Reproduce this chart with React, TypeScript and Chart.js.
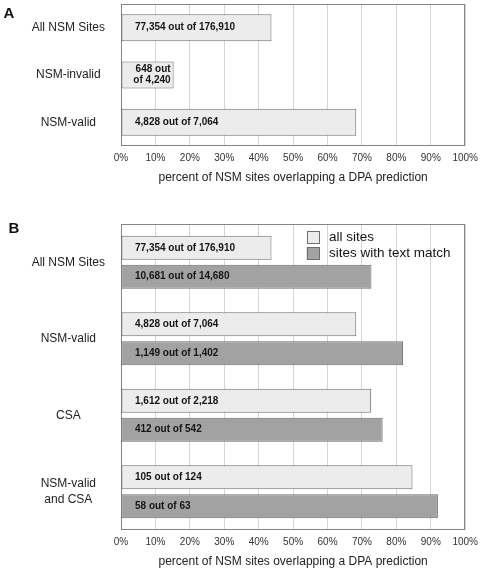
import React, { useEffect, useRef } from 'react';
import { Chart, registerables } from 'chart.js';

Chart.register(...registerables);

// ---------- data ----------
const categoriesA = ['All NSM Sites', 'NSM-invalid', 'NSM-valid'];
const hitsA = [77354, 648, 4828];
const totalsA = [176910, 4240, 7064];

const categoriesB: (string | string[])[] = ['All NSM Sites', 'NSM-valid', 'CSA', ['NSM-valid', 'and CSA']];
const seriesNamesB = ['all sites', 'sites with text match'];
const hitsAllB = [77354, 4828, 1612, 105];
const totalsAllB = [176910, 7064, 2218, 124];
const hitsTextB = [10681, 1149, 412, 58];
const totalsTextB = [14680, 1402, 542, 63];

const panelLabels = ['A', 'B'];
const axisTitle = 'percent of NSM sites overlapping a DPA prediction';
const xMin = 0;
const xMax = 100;
const xStep = 10;

// ---------- helpers ----------
const FONT = '"Liberation Sans", Arial, Helvetica, sans-serif';
const LIGHT = '#ececec';
const DARK = '#a2a2a2';
const EDGE = '#6e6e6e';

const pct = (h: number[], t: number[]) => h.map((v, i) => (v / t[i]) * 100);
const fmt = (n: number) => n.toLocaleString('en-US');
const texts = (h: number[], t: number[]) => h.map((v, i) => `${fmt(v)} out of ${fmt(t[i])}`);

const framePlugin = {
  id: 'frame',
  beforeDatasetsDraw(chart: any) {
    const { ctx, chartArea: a } = chart;
    ctx.save();
    ctx.strokeStyle = '#858585';
    ctx.lineWidth = 1;
    ctx.strokeRect(Math.round(a.left) + 0.5, Math.round(a.top) + 0.5, Math.round(a.right - a.left) - 1, Math.round(a.bottom - a.top) - 1);
    ctx.restore();
  },
};

const barTextPlugin = {
  id: 'barText',
  afterDatasetsDraw(chart: any) {
    const { ctx, chartArea: a } = chart;
    ctx.save();
    ctx.font = `bold 10px ${FONT}`;
    ctx.fillStyle = '#151515';
    ctx.textBaseline = 'middle';
    chart.data.datasets.forEach((ds: any, di: number) => {
      const meta = chart.getDatasetMeta(di);
      meta.data.forEach((el: any, i: number) => {
        const t: string = ds.texts[i];
        const { x, y } = el.getProps(['x', 'y'], true);
        const left = a.left + 14;
        const w = ctx.measureText(t).width;
        if (left + w > x - 3) {
          const idx = t.indexOf(' of ');
          const l1 = t.slice(0, idx);
          const l2 = t.slice(idx + 1);
          ctx.textAlign = 'right';
          ctx.fillText(l1, x - 3, y - 5.5);
          ctx.fillText(l2, x - 3, y + 5.5);
        } else {
          ctx.textAlign = 'left';
          ctx.fillText(t, left, y);
        }
      });
    });
    ctx.restore();
  },
};

const panelLetterPlugin = {
  id: 'panelLetter',
  afterDraw(chart: any, _args: any, opts: any) {
    const { ctx } = chart;
    ctx.save();
    ctx.font = `bold 15px ${FONT}`;
    ctx.fillStyle = '#111';
    ctx.textAlign = 'left';
    ctx.textBaseline = 'alphabetic';
    ctx.fillText(opts.text, opts.x, opts.y);
    ctx.restore();
  },
};

const innerLegendPlugin = {
  id: 'innerLegend',
  afterDraw(chart: any, _args: any, opts: any) {
    if (!opts.show) return;
    const { ctx, chartArea: a } = chart;
    ctx.save();
    const bx = a.right - 158.5;
    chart.data.datasets.forEach((ds: any, i: number) => {
      const by = a.top + 6.7 + i * 16.3;
      ctx.fillStyle = ds.backgroundColor;
      ctx.fillRect(bx, by, 12.5, 12.5);
      ctx.strokeStyle = EDGE;
      ctx.lineWidth = 1;
      ctx.strokeRect(Math.round(bx) + 0.5, Math.round(by) + 0.5, 12, 12);
      ctx.font = `13.5px ${FONT}`;
      ctx.fillStyle = '#151515';
      ctx.textAlign = 'left';
      ctx.textBaseline = 'middle';
      ctx.fillText(ds.label, bx + 22.3, by + 6.5);
    });
    ctx.restore();
  },
};

function makeOptions(topPad: number, letter: any, legend: boolean, catPct: number, barPct: number): any {
  return {
    indexAxis: 'y',
    responsive: false,
    animation: false,
    events: [],
    layout: { padding: { top: topPad, right: 17, left: 0, bottom: 0 } },
    datasets: { bar: { categoryPercentage: catPct, barPercentage: barPct } },
    plugins: {
      legend: { display: false },
      tooltip: { enabled: false },
      panelLetter: letter,
      innerLegend: { show: legend },
    },
    scales: {
      x: {
        min: xMin,
        max: xMax,
        grid: { color: '#d6d6d6', drawTicks: false, lineWidth: 1 },
        border: { display: false },
        ticks: {
          stepSize: xStep,
          padding: 6,
          color: '#333',
          font: { family: FONT, size: 10 },
          callback: (v: any) => `${v}%`,
          maxRotation: 0,
          autoSkip: false,
        },
        title: {
          display: true,
          text: axisTitle,
          color: '#222',
          font: { family: FONT, size: 12 },
          padding: { top: 0, bottom: 3 },
        },
        afterFit: (s: any) => {
          s.height = 42;
        },
      },
      y: {
        grid: { display: false, drawTicks: false },
        border: { display: false },
        ticks: {
          crossAlign: 'center',
          padding: 16,
          color: '#222',
          font: { family: FONT, size: 12, lineHeight: 1.33 },
        },
        afterFit: (s: any) => {
          s.width = 121;
          s.paddingTop = 0;
          s.paddingBottom = 0;
        },
      },
    },
  };
}

function ChartCanvas({ config, width, height, top }: { config: any; width: number; height: number; top: number }) {
  const ref = useRef<HTMLCanvasElement | null>(null);
  useEffect(() => {
    if (!ref.current) return;
    const chart = new Chart(ref.current, config);
    return () => chart.destroy();
  }, []);
  return (
    <canvas
      ref={ref}
      width={width}
      height={height}
      style={{ position: 'absolute', left: 0, top, width, height, display: 'block' }}
    />
  );
}

export default function App() {
  const configA = {
    type: 'bar',
    data: {
      labels: categoriesA,
      datasets: [
        {
          label: 'all sites',
          data: pct(hitsA, totalsA),
          texts: texts(hitsA, totalsA),
          backgroundColor: LIGHT,
          borderColor: EDGE,
          borderWidth: 1,
          borderSkipped: false,
        },
      ],
    },
    options: makeOptions(4, { text: panelLabels[0], x: 3.5, y: 17.5 }, false, 1, 0.57),
    plugins: [framePlugin, barTextPlugin, panelLetterPlugin, innerLegendPlugin],
  };

  const configB = {
    type: 'bar',
    data: {
      labels: categoriesB,
      datasets: [
        {
          label: seriesNamesB[0],
          data: pct(hitsAllB, totalsAllB),
          texts: texts(hitsAllB, totalsAllB),
          backgroundColor: LIGHT,
          borderColor: EDGE,
          borderWidth: 1,
          borderSkipped: false,
        },
        {
          label: seriesNamesB[1],
          data: pct(hitsTextB, totalsTextB),
          texts: texts(hitsTextB, totalsTextB),
          backgroundColor: DARK,
          borderColor: EDGE,
          borderWidth: 1,
          borderSkipped: false,
        },
      ],
    },
    options: makeOptions(36, { text: panelLabels[1], x: 8.5, y: 44.5 }, true, 0.754, 0.83),
    plugins: [framePlugin, barTextPlugin, panelLetterPlugin, innerLegendPlugin],
  };

  return (
    <div style={{ position: 'fixed', left: 0, top: 0, width: 484, height: 572, background: '#fff' }}>
      <ChartCanvas config={configA} width={484} height={188} top={0} />
      <ChartCanvas config={configB} width={484} height={384} top={188} />
    </div>
  );
}
